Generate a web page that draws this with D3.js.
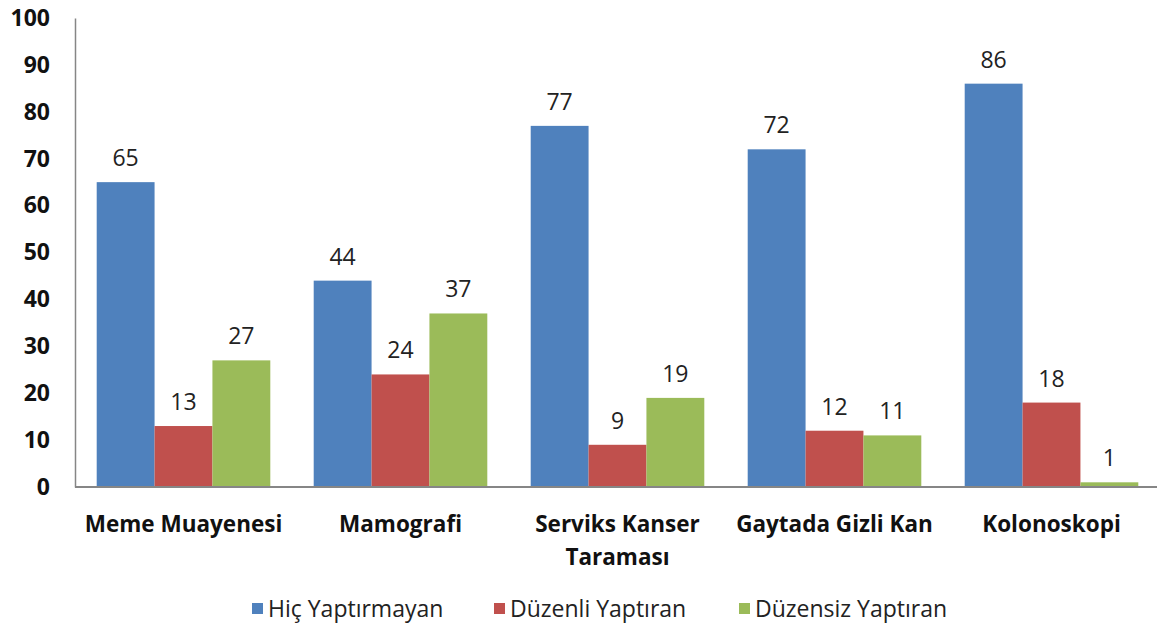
<!DOCTYPE html>
<html>
<head>
<meta charset="utf-8">
<script src="https://cdn.jsdelivr.net/npm/d3@7"></script>
<style>
  body { margin: 0; background: #fff; }
  svg { display: block; font-family: "Open Sans", "Liberation Sans", sans-serif; }
</style>
</head>
<body>
<svg width="1157" height="627"></svg>
<script>
// chart data
var categories = ["Meme Muayenesi", "Mamografi", "Serviks Kanser Taraması", "Gaytada Gizli Kan", "Kolonoskopi"];
var categoryLines = [["Meme Muayenesi"], ["Mamografi"], ["Serviks Kanser", "Taraması"], ["Gaytada Gizli Kan"], ["Kolonoskopi"]];
var seriesNames = ["Hiç Yaptırmayan", "Düzenli Yaptıran", "Düzensiz Yaptıran"];
var hicValues = [65, 44, 77, 72, 86];
var duzenliValues = [13, 24, 9, 12, 18];
var duzensizValues = [27, 37, 19, 11, 1];
var yTicks = [0, 10, 20, 30, 40, 50, 60, 70, 80, 90, 100];

var colors = ["#4F81BD", "#C0504D", "#9BBB59"];
var series = [hicValues, duzenliValues, duzensizValues];

var svg = d3.select("svg");
var plotLeft = 75, plotRight = 1160, plotTop = 18, plotBottom = 487;

var x0 = d3.scaleBand()
  .domain(categories)
  .range([plotLeft, plotRight])
  .paddingInner(0.2)
  .paddingOuter(0.1);

var x1 = d3.scaleBand()
  .domain(seriesNames)
  .range([0, x0.bandwidth()]);

var y = d3.scaleLinear()
  .domain([0, 100])
  .range([plotBottom, plotTop]);

// bars
var groups = svg.append("g")
  .selectAll("g")
  .data(categories)
  .enter().append("g")
  .attr("transform", function(d) { return "translate(" + x0(d) + ",0)"; });

groups.selectAll("rect")
  .data(function(d, i) {
    return seriesNames.map(function(s, j) { return {name: s, value: series[j][i], idx: j}; });
  })
  .enter().append("rect")
  .attr("x", function(d) { return x1(d.name); })
  .attr("y", function(d) { return y(d.value); })
  .attr("width", x1.bandwidth())
  .attr("height", function(d) { return plotBottom - y(d.value); })
  .attr("fill", function(d) { return colors[d.idx]; });

groups.selectAll("text")
  .data(function(d, i) {
    return seriesNames.map(function(s, j) { return {name: s, value: series[j][i]}; });
  })
  .enter().append("text")
  .attr("x", function(d) { return x1(d.name) + x1.bandwidth() / 2; })
  .attr("y", function(d) { return y(d.value) - 16; })
  .attr("text-anchor", "middle")
  .attr("font-size", "23px")
  .attr("fill", "#222")
  .text(function(d) { return d.value; });

// axes
var yAxis = svg.append("g")
  .attr("transform", "translate(" + plotLeft + ",0)")
  .call(d3.axisLeft(y).tickValues(yTicks).tickSize(0).tickPadding(25));
yAxis.select(".domain").attr("stroke", "#868686").attr("stroke-width", 1.5);
yAxis.selectAll("text")
  .attr("font-size", "23px")
  .attr("font-weight", "bold")
  .attr("fill", "#111")
  .attr("font-family", "'Open Sans', sans-serif");

svg.append("line")
  .attr("x1", plotLeft).attr("x2", plotRight)
  .attr("y1", plotBottom).attr("y2", plotBottom)
  .attr("stroke", "#868686")
  .attr("stroke-width", 2);

// category labels
var catLabels = svg.append("g")
  .selectAll("text")
  .data(categories)
  .enter().append("text")
  .attr("x", function(d) { return x0(d) + x0.bandwidth() / 2; })
  .attr("y", 532)
  .attr("text-anchor", "middle")
  .attr("font-size", "22.5px")
  .attr("font-weight", "bold")
  .attr("fill", "#111");

catLabels.selectAll("tspan")
  .data(function(d, i) { return categoryLines[i]; })
  .enter().append("tspan")
  .attr("x", function() { var c = d3.select(this.parentNode).datum(); return x0(c) + x0.bandwidth() / 2; })
  .attr("dy", function(d, i) { return i === 0 ? 0 : 33; })
  .text(function(d) { return d; });

// legend
var legendX = [252, 494, 739];
var legend = svg.append("g")
  .selectAll("g")
  .data(seriesNames)
  .enter().append("g")
  .attr("transform", function(d, i) { return "translate(" + legendX[i] + ",603)"; });

legend.append("rect")
  .attr("width", 11)
  .attr("height", 11)
  .attr("fill", function(d, i) { return colors[i]; });

legend.append("text")
  .attr("x", 16)
  .attr("y", 14)
  .attr("font-size", "23px")
  .attr("fill", "#222")
  .text(function(d) { return d; });
</script>
</body>
</html>
